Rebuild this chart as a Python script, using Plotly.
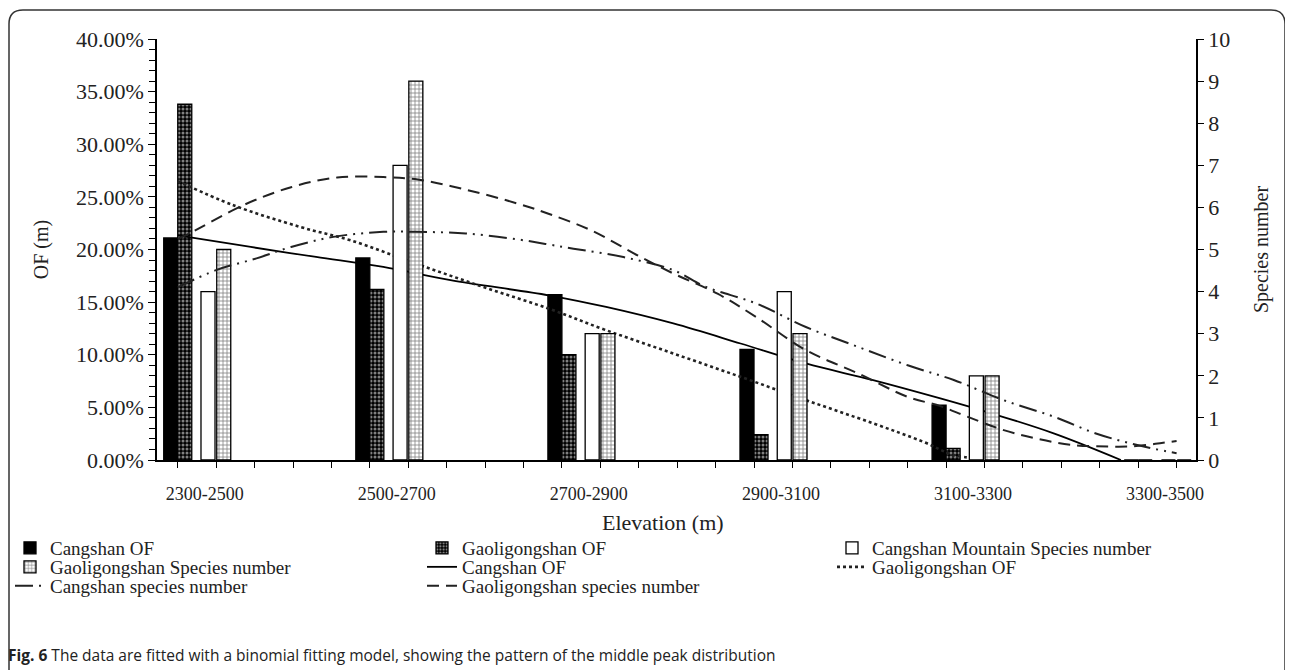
import numpy as np
import plotly.graph_objects as go

# ---------------- data ----------------
categories = ["2300-2500", "2500-2700", "2700-2900", "2900-3100", "3100-3300", "3300-3500"]
cangshan_of = [0.211, 0.192, 0.157, 0.105, 0.052, 0.0]
gaoli_of = [0.338, 0.162, 0.100, 0.024, 0.011, 0.0]
cangshan_species = [4, 7, 3, 4, 2, 0]
gaoli_species = [5, 9, 3, 3, 2, 0]

# fitted curves, x in category-index units
cang_of_fit_x = [0.0, 0.38, 0.72, 1.07, 1.42, 1.93, 2.23, 2.58, 2.93, 3.27, 3.62, 3.97, 4.21, 4.56, 4.91]
cang_of_fit_y = [0.2135, 0.2024, 0.1929, 0.1834, 0.1708, 0.1565, 0.1454, 0.1297, 0.1107, 0.0917, 0.0759,
                 0.0585, 0.0458, 0.0253, 0.0]
gaoli_of_fit_x = [0.0, 0.29, 0.64, 0.90, 1.24, 1.59, 1.93, 2.23, 2.58, 2.93, 3.27, 3.62, 3.88, 4.04, 4.17]
gaoli_of_fit_y = [0.265, 0.242, 0.2213, 0.2087, 0.1866, 0.1644, 0.1439, 0.1233, 0.1012, 0.079, 0.0569,
                  0.0348, 0.0174, 0.0047, 0.0016]
cang_sp_fit_x = [0.0, 0.20, 0.41, 0.59, 0.81, 1.07, 1.24, 1.50, 1.77, 1.93, 2.06, 2.32, 2.58, 2.75, 3.01,
                 3.27, 3.54, 3.80, 4.04, 4.30, 4.56, 4.78, 4.99, 5.20]
cang_sp_fit_y = [4.10, 4.51, 4.79, 5.06, 5.30, 5.42, 5.42, 5.38, 5.24, 5.12, 5.02, 4.82, 4.51, 4.11, 3.72,
                 3.16, 2.69, 2.25, 1.90, 1.42, 1.03, 0.63, 0.36, 0.16]
gaoli_sp_fit_x = [0.0, 0.06, 0.34, 0.59, 0.83, 1.07, 1.25, 1.51, 1.77, 1.93, 2.15, 2.41, 2.58, 2.81, 3.01,
                  3.27, 3.54, 3.80, 3.97, 4.11, 4.30, 4.47, 4.65, 4.84, 4.99, 5.13, 5.20]
gaoli_sp_fit_y = [5.25, 5.38, 6.05, 6.48, 6.71, 6.72, 6.66, 6.41, 6.09, 5.85, 5.46, 4.82, 4.43, 3.95, 3.40,
                  2.61, 2.06, 1.50, 1.28, 1.03, 0.71, 0.51, 0.36, 0.32, 0.33, 0.41, 0.45]

# ---------------- layout constants (page pixels) ----------------
W, H = 1293, 670
OFF = 8  # page body margin
PL, PR, PT, PB = 157, 1196, 39, 460  # plot area, page px
SERIF = "Liberation Serif"


def px_x(p):
    return (p - PL) / (PR - PL)


def px_y(p):
    return (PB - p) / (PB - PT)


idx = np.arange(len(categories))
sec = idx + 0.2
BW = 0.073

fig = go.Figure()
line_style = dict(color="black", width=1.3)

fig.add_trace(go.Bar(x=idx, y=cangshan_of, width=BW, offset=-BW, name="Cangshan OF",
                     marker=dict(color="black", line=line_style), legend="legend"))
fig.add_trace(go.Bar(x=idx, y=gaoli_of, width=BW, offset=0, name="Gaoligongshan OF",
                     marker=dict(color="black", line=line_style,
                                 pattern=dict(shape=".", bgcolor="black", fgcolor="white", size=4, solidity=0.45)),
                     legend="legend2"))
fig.add_trace(go.Bar(x=sec, y=cangshan_species, width=BW, offset=-BW - 0.006, name="Cangshan Mountain Species number",
                     marker=dict(color="white", line=line_style), yaxis="y2", legend="legend3"))
fig.add_trace(go.Bar(x=sec, y=gaoli_species, width=BW, offset=0.003, name="Gaoligongshan Species number",
                     marker=dict(color="white", line=line_style,
                                 pattern=dict(shape="+", bgcolor="white", fgcolor="black", size=4, solidity=0.35)),
                     yaxis="y2", legend="legend4"))

fig.add_trace(go.Scatter(x=cang_of_fit_x, y=cang_of_fit_y, mode="lines", name="Cangshan OF",
                         line=dict(color="black", width=1.8, shape="spline"), legend="legend5"))
fig.add_trace(go.Scatter(x=gaoli_of_fit_x, y=gaoli_of_fit_y, mode="lines", name="Gaoligongshan OF",
                         line=dict(color="#222", width=2.6, dash="dot", shape="spline"), legend="legend6"))
fig.add_trace(go.Scatter(x=cang_sp_fit_x, y=cang_sp_fit_y, mode="lines", name="Cangshan species number",
                         line=dict(color="#222", width=2, dash="18px,6px,2px,6px,2px,6px", shape="spline"),
                         yaxis="y2", legend="legend7"))
fig.add_trace(go.Scatter(x=gaoli_sp_fit_x, y=gaoli_sp_fit_y, mode="lines", name="Gaoligongshan species number",
                         line=dict(color="#222", width=2, dash="12px,7px", shape="spline"),
                         yaxis="y2", legend="legend8"))

tick_font = dict(family=SERIF, size=22, color="#222")
x0 = -0.108
x1 = 5.301

fig.update_layout(
    width=W, height=H,
    margin=dict(l=PL - OFF, r=W - (PR - OFF), t=PT - OFF, b=H - (PB - OFF), autoexpand=False),
    paper_bgcolor="white", plot_bgcolor="white",
    barmode="overlay", showlegend=True,
    font=dict(family=SERIF, size=18, color="#222"),
    xaxis=dict(range=[x0, x1], showgrid=False, zeroline=False, showline=True, linecolor="black", linewidth=1.5,
               tickmode="array", tickvals=list(idx + 0.14), ticktext=categories,
               ticks="outside", ticklen=17, tickcolor="rgba(0,0,0,0)",
               tickfont=dict(family=SERIF, size=18, color="#222"),
               minor=dict(tickmode="linear", tick0=0, dtick=0.2, ticks="outside", ticklen=6,
                          tickcolor="black", tickwidth=1.3)),
    yaxis=dict(range=[0, 0.4], dtick=0.05, tickformat=".2%", showgrid=False, zeroline=False,
               showline=True, linecolor="black", linewidth=1.5, ticks="outside", ticklen=7,
               tickcolor="black", tickwidth=1.3, tickfont=tick_font,
               minor=dict(dtick=0.01, ticks="outside", ticklen=6, tickcolor="black", tickwidth=1.3),
               title=dict(text="OF (m)", font=dict(family=SERIF, size=20), standoff=22)),
    yaxis2=dict(range=[0, 10], dtick=1, overlaying="y", side="right", showgrid=False, zeroline=False,
                showline=True, linecolor="black", linewidth=1.5, ticks="outside", ticklen=6,
                tickcolor="black", tickwidth=1.3, tickfont=tick_font,
                title=dict(text="Species number", font=dict(family=SERIF, size=20), standoff=25)),
)

# x-axis title, centred where the original has it
fig.add_annotation(xref="paper", yref="paper", x=px_x(663), y=px_y(522), xanchor="center", yanchor="middle",
                   showarrow=False, text="Elevation (m)", font=dict(family=SERIF, size=22, color="#222"))

# one legend box per entry, arranged as 3 columns x 3 rows like the original
legend_common = dict(orientation="h", xanchor="left", yanchor="middle", bgcolor="rgba(0,0,0,0)",
                     font=dict(family=SERIF, size=19, color="#222"), itemwidth=30)
col_x = [10, 422, 832]
row_y = [548, 567, 586]
slots = [(0, 0), (1, 0), (2, 0), (0, 1), (1, 1), (2, 1), (0, 2), (1, 2)]
legend_layout = {}
for i, (c, r) in enumerate(slots):
    key = "legend" if i == 0 else f"legend{i + 1}"
    legend_layout[key] = dict(x=px_x(col_x[c]), y=px_y(row_y[r]), **legend_common)
fig.update_layout(**legend_layout)

# caption
fig.add_annotation(xref="paper", yref="paper", x=px_x(6), y=px_y(655), xanchor="left", yanchor="middle",
                   showarrow=False, align="left",
                   text="<b>Fig. 6</b> The data are fitted with a binomial fitting model, showing the pattern of the middle peak distribution",
                   font=dict(family="Open Sans", size=15.5, color="#222"))

# rounded frame
L, T, R, B, r = 9, 10, 1285, 700, 14
path = (f"M {px_x(L)},{px_y(B)} L {px_x(L)},{px_y(T + r)} Q {px_x(L)},{px_y(T)} {px_x(L + r)},{px_y(T)} "
        f"L {px_x(R - r)},{px_y(T)} Q {px_x(R)},{px_y(T)} {px_x(R)},{px_y(T + r)} L {px_x(R)},{px_y(B)}")
fig.add_shape(type="path", xref="paper", yref="paper", path=path, line=dict(color="#333", width=1.5))

fig.write_html("out.html")
